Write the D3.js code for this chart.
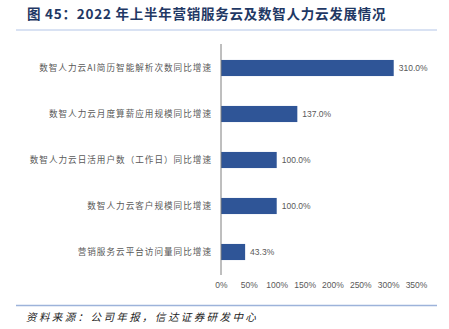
<!DOCTYPE html>
<html>
<head>
<meta charset="utf-8">
<script src="https://cdn.jsdelivr.net/npm/d3@7"></script>
<style>
  html, body { margin: 0; padding: 0; background: #fff; }
  svg { display: block; }
</style>
</head>
<body>
<svg id="chart" width="449" height="329"></svg>
<script>
// Categories (top to bottom) and their year-on-year growth, in percent
const categories = [
  "数智人力云AI简历智能解析次数同比增速",
  "数智人力云月度算薪应用规模同比增速",
  "数智人力云日活用户数（工作日）同比增速",
  "数智人力云客户规模同比增速",
  "营销服务云平台访问量同比增速"
];
const growth = [310.0, 137.0, 100.0, 100.0, 43.3];
const xTicks = [0, 50, 100, 150, 200, 250, 300, 350];

const titleText = "图 45：2022 年上半年营销服务云及数智人力云发展情况";
const sourceText = "资料来源：公司年报，信达证券研发中心";

const svg = d3.select("#chart");
const cjk = "'Noto Sans CJK SC', 'Noto Sans', sans-serif";

// Title and rule under it
svg.append("text")
  .attr("x", 27).attr("y", 19)
  .attr("font-family", cjk)
  .attr("font-size", 13.5)
  .attr("font-weight", "bold")
  .attr("letter-spacing", 0.75)
  .attr("fill", "#1f3864")
  .text(titleText);
svg.append("line")
  .attr("x1", 16).attr("x2", 437).attr("y1", 30).attr("y2", 30)
  .attr("stroke", "#b4c6e7").attr("stroke-width", 1.2);

// Plot area
const x = d3.scaleLinear().domain([0, 350]).range([221, 416]);
const y = d3.scaleBand().domain(categories).range([45, 275]).paddingInner(0.65).paddingOuter(0.325);

// Bars
svg.append("g").selectAll("rect")
  .data(categories)
  .join("rect")
  .attr("x", x(0))
  .attr("y", d => y(d))
  .attr("width", (d, i) => x(growth[i]) - x(0))
  .attr("height", y.bandwidth())
  .attr("fill", "#2f5597");

// Value labels
svg.append("g").selectAll("text")
  .data(categories)
  .join("text")
  .attr("x", (d, i) => x(growth[i]) + 5)
  .attr("y", d => y(d) + y.bandwidth() / 2)
  .attr("dy", "0.35em")
  .attr("font-family", "'Liberation Sans', Arial, sans-serif")
  .attr("font-size", 8.5)
  .attr("fill", "#595959")
  .text((d, i) => growth[i].toFixed(1) + "%");

// Category labels
svg.append("g").selectAll("text")
  .data(categories)
  .join("text")
  .attr("x", 212)
  .attr("y", d => y(d) + y.bandwidth() / 2)
  .attr("dy", "0.35em")
  .attr("text-anchor", "end")
  .attr("font-family", cjk)
  .attr("font-size", 8.6)
  .attr("letter-spacing", 1.0)
  .attr("fill", "#595959")
  .text(d => d);

// Vertical category axis line
svg.append("line")
  .attr("x1", x(0)).attr("x2", x(0))
  .attr("y1", 44).attr("y2", 275)
  .attr("stroke", "#7f7f7f").attr("stroke-width", 1);

// Value axis tick labels (no axis line)
const xAxis = d3.axisBottom(x)
  .tickValues(xTicks)
  .tickSize(0)
  .tickPadding(0)
  .tickFormat(d => d + "%");
const gx = svg.append("g").attr("transform", "translate(0,282)").call(xAxis);
gx.select(".domain").remove();
gx.selectAll("text")
  .attr("font-family", "'Liberation Sans', Arial, sans-serif")
  .attr("font-size", 8.5)
  .attr("fill", "#595959");

// Bottom rule and source note
svg.append("line")
  .attr("x1", 16).attr("x2", 437).attr("y1", 305.5).attr("y2", 305.5)
  .attr("stroke", "#9db3da").attr("stroke-width", 1.5);
svg.append("text")
  .attr("x", 26).attr("y", 320.5)
  .attr("font-family", cjk)
  .attr("font-size", 10.5)
  .attr("font-style", "italic")
  .attr("letter-spacing", 2.4)
  .attr("fill", "#222")
  .text(sourceText);
</script>
</body>
</html>
